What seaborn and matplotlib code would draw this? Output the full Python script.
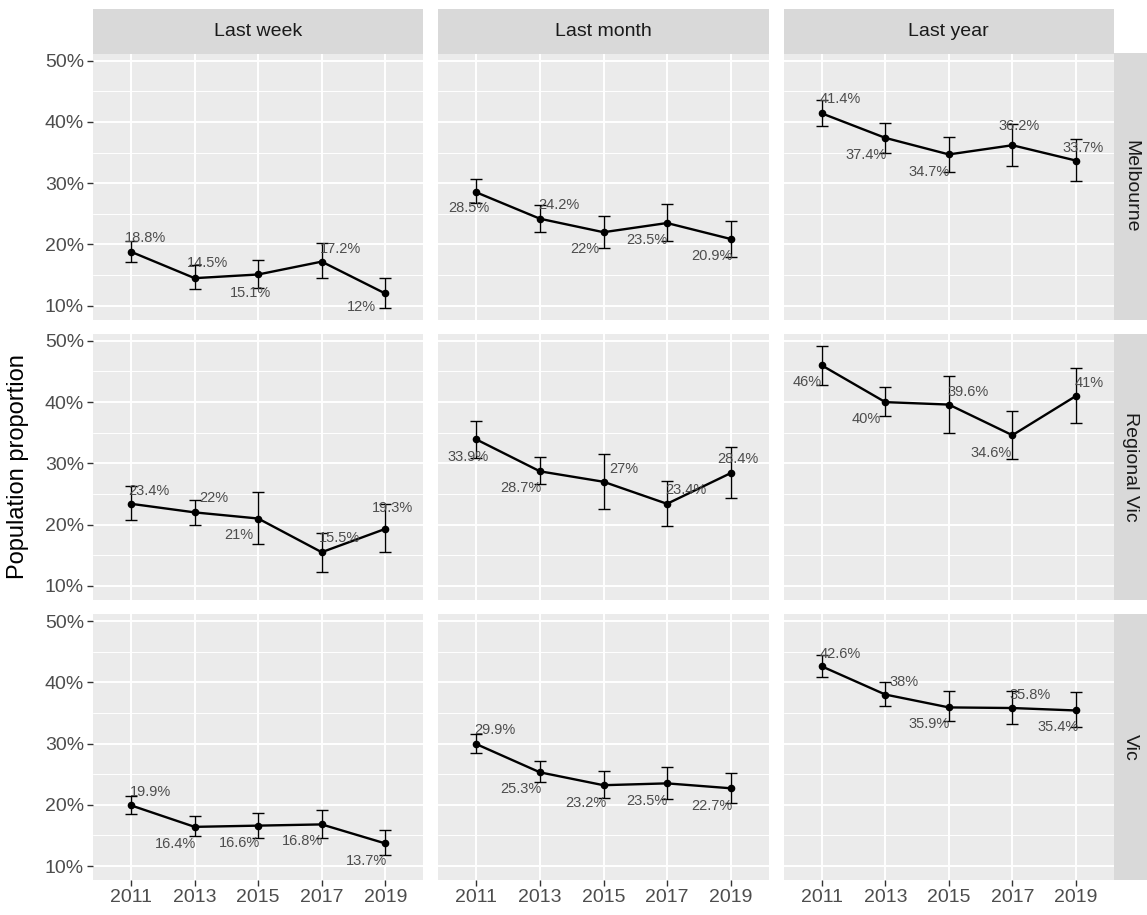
import numpy as np
import pandas as pd
import matplotlib
matplotlib.use("Agg")
import matplotlib.pyplot as plt
import seaborn as sns
from matplotlib.patches import Rectangle
from matplotlib.ticker import FixedLocator

# ---------------- data ----------------
years = [2011, 2013, 2015, 2017, 2019]
regions = ["Melbourne", "Regional Vic", "Vic"]
periods = ["Last week", "Last month", "Last year"]

melb_week = [18.8, 14.5, 15.1, 17.2, 12.0]
melb_week_lo = [17.1, 12.7, 12.9, 14.5, 9.7]
melb_week_hi = [20.5, 16.7, 17.5, 20.2, 14.5]
melb_month = [28.5, 24.2, 22.0, 23.5, 20.9]
melb_month_lo = [26.8, 22.0, 19.5, 20.5, 17.9]
melb_month_hi = [30.7, 26.4, 24.6, 26.6, 23.9]
melb_year = [41.4, 37.4, 34.7, 36.2, 33.7]
melb_year_lo = [39.3, 35.0, 31.8, 32.8, 30.4]
melb_year_hi = [43.6, 39.9, 37.5, 39.6, 37.2]

reg_week = [23.4, 22.0, 21.0, 15.5, 19.3]
reg_week_lo = [20.7, 20.0, 16.8, 12.3, 15.6]
reg_week_hi = [26.3, 24.1, 25.3, 18.7, 23.3]
reg_month = [33.9, 28.7, 27.0, 23.4, 28.4]
reg_month_lo = [30.9, 26.6, 22.6, 19.8, 24.3]
reg_month_hi = [36.9, 31.0, 31.5, 27.2, 32.6]
reg_year = [46.0, 40.0, 39.6, 34.6, 41.0]
reg_year_lo = [42.8, 37.7, 34.9, 30.7, 36.6]
reg_year_hi = [49.2, 42.5, 44.3, 38.6, 45.6]

vic_week = [19.9, 16.4, 16.6, 16.8, 13.7]
vic_week_lo = [18.5, 14.9, 14.6, 14.6, 11.8]
vic_week_hi = [21.5, 18.1, 18.7, 19.2, 15.9]
vic_month = [29.9, 25.3, 23.2, 23.5, 22.7]
vic_month_lo = [28.4, 23.7, 21.1, 21.0, 20.3]
vic_month_hi = [31.6, 27.1, 25.5, 26.1, 25.2]
vic_year = [42.6, 38.0, 35.9, 35.8, 35.4]
vic_year_lo = [40.8, 36.2, 33.6, 33.2, 32.7]
vic_year_hi = [44.4, 40.0, 38.5, 38.5, 38.4]

series = {
    ("Melbourne", "Last week"): (melb_week, melb_week_lo, melb_week_hi),
    ("Melbourne", "Last month"): (melb_month, melb_month_lo, melb_month_hi),
    ("Melbourne", "Last year"): (melb_year, melb_year_lo, melb_year_hi),
    ("Regional Vic", "Last week"): (reg_week, reg_week_lo, reg_week_hi),
    ("Regional Vic", "Last month"): (reg_month, reg_month_lo, reg_month_hi),
    ("Regional Vic", "Last year"): (reg_year, reg_year_lo, reg_year_hi),
    ("Vic", "Last week"): (vic_week, vic_week_lo, vic_week_hi),
    ("Vic", "Last month"): (vic_month, vic_month_lo, vic_month_hi),
    ("Vic", "Last year"): (vic_year, vic_year_lo, vic_year_hi),
}

# label placement nudges (pixels: right, down) -- layout only
label_nudge = {
    ("Melbourne", "Last week"): [(14, -14), (13, -15), (-8, 19), (19, -13), (-24, 14)],
    ("Melbourne", "Last month"): [(-8, 16), (19, -14), (-19, 17), (-20, 17), (-19, 17)],
    ("Melbourne", "Last year"): [(18, -14), (-19, 17), (-20, 18), (7, -19), (7, -13)],
    ("Regional Vic", "Last week"): [(18, -13), (19, -14), (-19, 16), (18, -14), (7, -21)],
    ("Regional Vic", "Last month"): [(-8, 18), (-19, 17), (20, -13), (19, -14), (7, -14)],
    ("Regional Vic", "Last year"): [(-15, 17), (-19, 17), (19, -13), (-21, 18), (13, -13)],
    ("Vic", "Last week"): [(19, -13), (-19, 17), (-19, 17), (-19, 17), (-19, 18)],
    ("Vic", "Last month"): [(18, -14), (-19, 17), (-18, 18), (-20, 18), (-19, 18)],
    ("Vic", "Last year"): [(18, -12), (19, -13), (-20, 17), (18, -13), (-18, 17)],
}

rows = []
for reg in regions:
    for per in periods:
        v, lo, hi = series[(reg, per)]
        for i, yr in enumerate(years):
            dx, dy = label_nudge[(reg, per)][i]
            rows.append(dict(region=reg, period=per, year=yr, xi=i,
                             value=v[i], lo=lo[i], hi=hi[i], dx=dx, dy=dy))
df = pd.DataFrame(rows)

# ---------------- style ----------------
sns.set_theme(style="darkgrid")
plt.rcParams['font.family'] = ['Liberation Sans', 'DejaVu Sans']

W, H, DPI = 1147, 915, 100

g = sns.FacetGrid(df, row="region", col="period", row_order=regions,
                  col_order=periods, sharex=True, sharey=True,
                  height=3, aspect=1.2, despine=False, margin_titles=False)


def draw(data, **kw):
    ax = plt.gca()
    ax.errorbar(data["xi"], data["value"],
                yerr=[data["value"] - data["lo"], data["hi"] - data["value"]],
                fmt="none", ecolor="black", elinewidth=1.0, capsize=4.6,
                capthick=1.0, zorder=3)
    sns.lineplot(data=data, x="xi", y="value", color="black", lw=1.7,
                 marker="o", markersize=5.5, markeredgewidth=0,
                 estimator=None, ax=ax, zorder=4)
    for _, r in data.iterrows():
        ax.annotate(f"{r['value']:g}%", (r["xi"], r["value"]),
                    xytext=(r["dx"], -r["dy"]), textcoords="offset pixels",
                    ha="center", va="center", fontsize=10.5,
                    color="#4D4D4D", zorder=5)


g.map_dataframe(draw)
g.set_titles("")
g.set_axis_labels("", "")

lo_all = df["lo"].min()
hi_all = df["hi"].max()
rng = hi_all - lo_all
ylim = (lo_all - 0.05 * rng, hi_all + 0.05 * rng)

nrow, ncol = g.axes.shape
for r in range(nrow):
    for c in range(ncol):
        ax = g.axes[r, c]
        ax.set_facecolor("#EBEBEB")
        for s in ax.spines.values():
            s.set_visible(False)
        ax.set_xlim(-0.6, len(years) - 1 + 0.6)
        ax.set_ylim(*ylim)
        ax.xaxis.set_major_locator(FixedLocator(range(len(years))))
        ax.set_xticklabels([str(y) for y in years])
        ax.yaxis.set_major_locator(FixedLocator([10, 20, 30, 40, 50]))
        ax.yaxis.set_minor_locator(FixedLocator([15, 25, 35, 45]))
        ax.set_yticklabels([f"{t}%" for t in [10, 20, 30, 40, 50]])
        ax.grid(which="major", color="white", lw=1.4)
        ax.grid(which="minor", axis="y", color="white", lw=0.7)
        ax.set_axisbelow(True)
        ax.tick_params(axis="both", which="major", length=4, width=1.0,
                       color="#333333", labelsize=14, labelcolor="#4D4D4D",
                       pad=2.5)
        ax.tick_params(axis="x", which="major", bottom=(r == nrow - 1),
                       labelbottom=(r == nrow - 1))
        ax.tick_params(axis="y", which="major", left=(c == 0),
                       labelleft=(c == 0))
        ax.tick_params(axis="y", which="minor", length=0, left=False)
        ax.set_xlabel("")
        ax.set_ylabel("")

fig = g.figure
fig.set_size_inches(W / DPI, H / DPI)
fig.set_dpi(DPI)
fig.patch.set_facecolor("white")

left, right = 93 / W, 1114 / W
top, bottom = 1 - 53.5 / H, 1 - 880 / H
fig.subplots_adjust(left=left, right=right, top=top, bottom=bottom,
                    wspace=15 / 330, hspace=14 / 266)

# top strips
for c, per in enumerate(periods):
    pos = g.axes[0, c].get_position()
    y0 = pos.y1
    hgt = 44.5 / H
    fig.patches.append(Rectangle((pos.x0, y0), pos.width, hgt,
                                 transform=fig.transFigure, facecolor="#D9D9D9",
                                 edgecolor="none", zorder=0))
    fig.text(pos.x0 + pos.width / 2, y0 + hgt / 2, per, ha="center",
             va="center", fontsize=14, color="#1A1A1A")

# right strips
for r, reg in enumerate(regions):
    pos = g.axes[r, -1].get_position()
    x0 = pos.x1
    wid = 33 / W
    fig.patches.append(Rectangle((x0, pos.y0), wid, pos.height,
                                 transform=fig.transFigure, facecolor="#D9D9D9",
                                 edgecolor="none", zorder=0))
    fig.text(x0 + wid / 2, pos.y0 + pos.height / 2, reg, ha="center",
             va="center", rotation=-90, fontsize=14, color="#1A1A1A")

fig.text(18 / W, 1 - 467 / H, "Population proportion", rotation=90,
         ha="center", va="center", fontsize=17, color="black")

fig.savefig("out.png", dpi=DPI)
